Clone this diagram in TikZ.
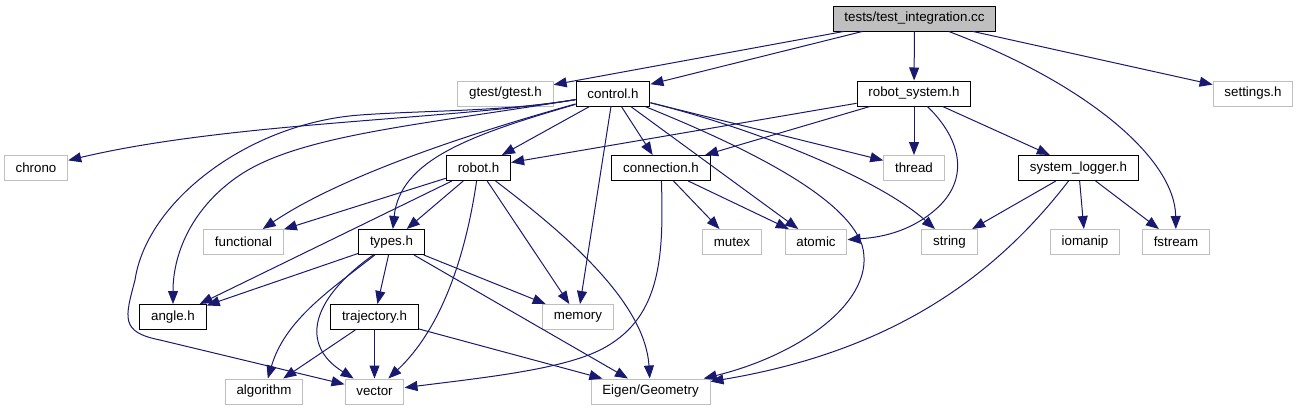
\documentclass[tikz,border=0pt]{standalone}
\usepackage{fontspec}
\setmainfont{Liberation Sans}
\usetikzlibrary{arrows.meta}

\definecolor{depBlue}{HTML}{191970}
\definecolor{sysGray}{HTML}{BFBFBF}

\begin{document}
\begin{tikzpicture}[x=0.75pt,y=-0.75pt,font=\fontsize{10}{12}\selectfont,
  hdr/.style={draw=black,line width=0.75pt,fill=white,minimum height=18.75pt,inner xsep=8.5pt,inner ysep=0pt},
  sys/.style={hdr,draw=sysGray},
  root/.style={hdr,fill=sysGray},
  inc/.style={depBlue,line width=0.75pt,-{Triangle[length=9.75pt,width=7.5pt]}}]
  \useasboundingbox (0,0) rectangle (1298,411);

  % files
  \node[root] (test) at (914.5,18.5) {tests/test\_integration.cc};

  \node[sys] (gtest)    at (505.5,93.5) {gtest/gtest.h};
  \node[hdr] (control)  at (613,93.5)   {control.h};
  \node[hdr] (robotsys) at (914,93.5)   {robot\_system.h};
  \node[sys] (settings) at (1253,93.5)  {settings.h};

  \node[sys] (chrono)     at (36,168)     {chrono};
  \node[hdr] (robot)      at (478.5,168)  {robot.h};
  \node[hdr] (connection) at (661,168)    {connection.h};
  \node[sys] (thread)     at (914,168)    {thread};
  \node[hdr] (syslog)     at (1078.5,168) {system\_logger.h};

  \node[sys] (functional) at (243.5,242) {functional};
  \node[hdr] (types)      at (391.5,242) {types.h};
  \node[sys] (mutex)      at (732,242)   {mutex};
  \node[sys] (atomic)     at (816,242)   {atomic};
  \node[sys] (string)     at (949.5,242) {string};
  \node[sys] (iomanip)    at (1085,242)  {iomanip};
  \node[sys] (fstream)    at (1176,242)  {fstream};

  \node[hdr] (angle)      at (173,317)   {angle.h};
  \node[hdr] (trajectory) at (374.5,317) {trajectory.h};
  \node[sys] (memory)     at (578,317)   {memory};

  \node[sys] (algorithm) at (264,391.5)   {algorithm};
  \node[sys] (vector)    at (374.5,391.5) {vector};
  \node[sys] (eigen)     at (650.5,391.5) {Eigen/Geometry};

  % includes of the test
  \draw[inc] (test) -- (gtest);
  \draw[inc] (test) -- (control);
  \draw[inc] (test) -- (robotsys);
  \draw[inc] (test) -- (settings);
  \draw[inc] (test) .. controls (1090,85) and (1175,160) .. (fstream);

  % control.h
  \draw[inc] (control) .. controls (450,120) and (230,122) .. (chrono);
  \draw[inc] (control) .. controls (500,112) and (430,110) .. (360,115)
    .. controls (250,123) and (147,200) .. (135,280)
    .. controls (125,318) and (120,332) .. (160,340) -- (vector);
  \draw[inc] (control) .. controls (420,125) and (300,135) .. (240,175)
    .. controls (195,205) and (173,250) .. (angle);
  \draw[inc] (control) .. controls (500,125) and (350,170) .. (functional);
  \draw[inc] (control) .. controls (470,135) and (400,160) .. (types);
  \draw[inc] (control) -- (robot);
  \draw[inc] (control) -- (memory);
  \draw[inc] (control) -- (connection);
  \draw[inc] (control) -- (atomic);
  \draw[inc] (control) -- (thread);
  \draw[inc] (control) .. controls (760,130) and (880,180) .. (string);
  \draw[inc] (control) .. controls (740,145) and (845,195) .. (862,245)
    .. controls (878,300) and (800,355) .. (eigen);

  % robot.h
  \draw[inc] (robot) -- (functional);
  \draw[inc] (robot) -- (angle);
  \draw[inc] (robot) -- (types);
  \draw[inc] (robot) .. controls (465,260) and (440,330) .. (vector);
  \draw[inc] (robot) -- (memory);
  \draw[inc] (robot) .. controls (560,230) and (645,300) .. (eigen);

  % types.h
  \draw[inc] (types) -- (angle);
  \draw[inc] (types) .. controls (330,290) and (285,320) .. (algorithm);
  \draw[inc] (types) .. controls (310,300) and (300,345) .. (vector);
  \draw[inc] (types) -- (trajectory);
  \draw[inc] (types) -- (memory);
  \draw[inc] (types) -- (eigen);

  % trajectory.h
  \draw[inc] (trajectory) -- (algorithm);
  \draw[inc] (trajectory) -- (vector);
  \draw[inc] (trajectory) -- (eigen);

  % connection.h
  \draw[inc] (connection) -- (mutex);
  \draw[inc] (connection) -- (atomic);
  \draw[inc] (connection) .. controls (664,260) and (660,320) .. (600,350)
    .. controls (560,370) and (480,378) .. (vector);

  % robot_system.h
  \draw[inc] (robotsys) -- (robot);
  \draw[inc] (robotsys) -- (connection);
  \draw[inc] (robotsys) -- (thread);
  \draw[inc] (robotsys) .. controls (962,140) and (970,180) .. (935,210)
    .. controls (905,236) and (870,238) .. (atomic);
  \draw[inc] (robotsys) -- (syslog);

  % system_logger.h
  \draw[inc] (syslog) -- (string);
  \draw[inc] (syslog) -- (iomanip);
  \draw[inc] (syslog) -- (fstream);
  \draw[inc] (syslog) .. controls (1000,270) and (900,350) .. (eigen);
\end{tikzpicture}
\end{document}
